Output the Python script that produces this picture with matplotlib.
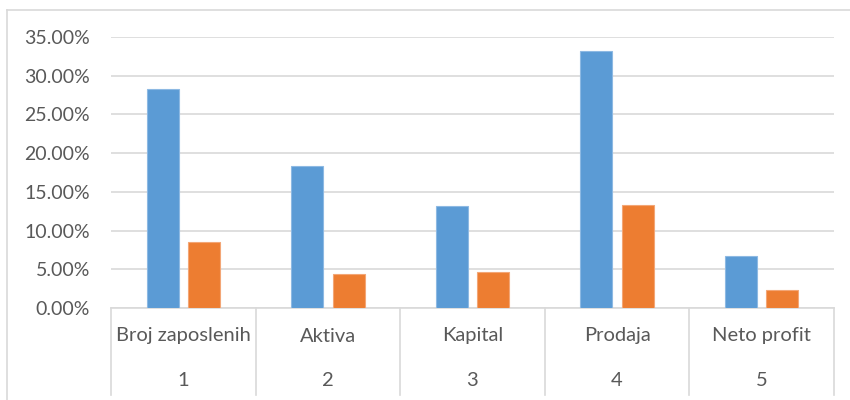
import matplotlib.pyplot as plt
import numpy as np
from matplotlib.lines import Line2D
from matplotlib.ticker import FuncFormatter

categories = ["Broj zaposlenih", "Aktiva", "Kapital", "Prodaja", "Neto profit"]
numbers = ["1", "2", "3", "4", "5"]
series_a = [0.2828, 0.1838, 0.1317, 0.3319, 0.0672]
series_b = [0.0849, 0.0435, 0.0462, 0.1326, 0.0232]

BLUE = "#5B9BD5"
ORANGE = "#ED7D31"
GRID = "#D9D9D9"
TEXT = "#595959"

plt.rcParams["font.family"] = ["Lato", "DejaVu Sans"]

W, H = 850, 400
fig = plt.figure(figsize=(W / 100, H / 100), dpi=100)
x0, x1, y_top, y_bot = 111, 834, 37, 308
ax = fig.add_axes([x0 / W, 1 - y_bot / H, (x1 - x0) / W, (y_bot - y_top) / H])

x = np.arange(1, len(categories) + 1)
bw = 0.221
off = 0.143
ax.bar(x - off, series_a, width=bw, color=BLUE, edgecolor="#8DB9E3", linewidth=0.8, zorder=3)
ax.bar(x + off, series_b, width=bw, color=ORANGE, edgecolor="#F3A676", linewidth=0.8, zorder=3)

ax.set_xlim(0.5, len(categories) + 0.5)
ax.set_ylim(0, 0.35)
ax.set_yticks(np.arange(0, 0.351, 0.05))
ax.yaxis.set_major_formatter(FuncFormatter(lambda v, _: f"{v * 100:.2f}%"))
ax.tick_params(axis="y", length=0, labelsize=14, labelcolor=TEXT, pad=15)
ax.set_xticks([])
ax.grid(axis="y", color=GRID, linewidth=1.2, zorder=0)
for s in ["top", "right", "left"]:
    ax.spines[s].set_visible(False)
ax.spines["bottom"].set_color(GRID)
ax.spines["bottom"].set_linewidth(1.2)

# multi-level category axis
h = y_bot - y_top
y_end = (y_bot - 395) / h
trans = ax.get_xaxis_transform()
for b in np.arange(0.5, len(categories) + 1):
    ax.plot([b, b], [0, y_end], color=GRID, lw=1.2, transform=trans, clip_on=False)
for xi, cat, num in zip(x, categories, numbers):
    ax.text(xi, (y_bot - 336) / h, cat, transform=trans, ha="center", va="center",
            fontsize=14.5, color=TEXT)
    ax.text(xi, (y_bot - 380) / h, num, transform=trans, ha="center", va="center",
            fontsize=14.5, color=TEXT)

# chart area border (top and left only visible)
fig.add_artist(Line2D([7 / W, 1], [1 - 10 / H, 1 - 10 / H], color=GRID, lw=1.2))
fig.add_artist(Line2D([7 / W, 7 / W], [0, 1 - 10 / H], color=GRID, lw=1.2))

fig.savefig("out.png", dpi=100)
